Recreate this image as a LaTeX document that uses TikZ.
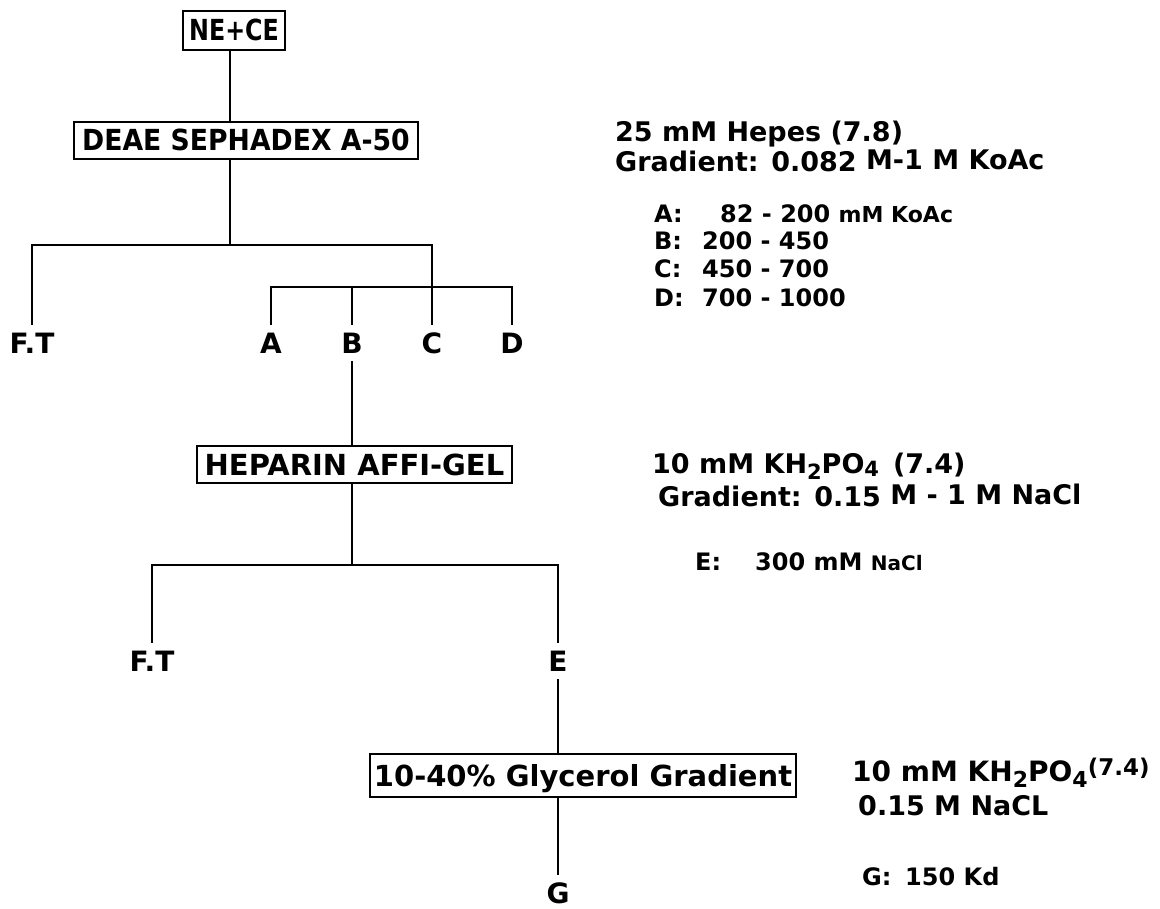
\documentclass[tikz,border=0pt]{standalone}
\usepackage{fontspec}
\setmainfont{DejaVu Sans}
\usepackage{graphicx}
\newcommand\fsz[1]{\fontsize{#1}{#1}\selectfont}
\begin{document}
\begin{tikzpicture}[x=1pt,y=-1pt,
  box/.style={draw,line width=1.9pt,inner sep=0pt,font=\bfseries\fsz{29},text height=21pt,text depth=0pt},
  lbl/.style={inner sep=0pt,font=\bfseries\fsz{28},text height=20.4pt,text depth=0pt},
  conn/.style={line width=1.9pt},
  gap/.style={shorten <=8pt},
  gapend/.style={shorten >=8pt},
  txt/.style={anchor=base west,inner sep=0pt,font=\bfseries\fsz{27}},
  sml/.style={anchor=base west,inner sep=0pt,font=\bfseries\fsz{24}}]
\useasboundingbox (0,0) rectangle (1160,909);
\fill[white] (0,0) rectangle (1160,909);

% boxes
\node[box,minimum width=102pt,minimum height=39pt] (nece) at (234,30.5) {\scalebox{0.82}[1]{NE+CE}};
\node[box,minimum width=344pt,minimum height=37pt] (deae) at (246,140.5) {\scalebox{0.92}[1]{DEAE SEPHADEX A-50}};
\node[box,minimum width=315pt,minimum height=37pt] (hep) at (354.5,464.5) {HEPARIN AFFI-GEL};
\node[box,minimum width=426pt,minimum height=43pt] (gly) at (583,775.5) {10-40\% Glycerol Gradient};

% labels
\node[lbl] (FT1) at (32,343) {F.T};
\node[lbl] (A) at (271,343) {A};
\node[lbl] (B) at (352,343) {B};
\node[lbl] (C) at (432,343) {C};
\node[lbl] (D) at (512,343) {D};
\node[lbl] (FT2) at (152,661) {F.T};
\node[lbl] (E) at (558,661) {E};
\node[lbl] (G) at (558,893) {G};

% junctions
\coordinate (j1) at (230,245);
\coordinate (j2) at (352,287);
\coordinate (j3) at (352,565);

% connectors
\draw[conn] (nece.south -| j1) -- (deae.north -| j1);
\draw[conn] (deae.south -| j1) -- (j1);
\draw[conn,gap,gapend] (FT1.north) |- (j1) -| (C.north);
\draw[conn,gap,gapend] (A.north) |- (j2) -| (D.north);
\draw[conn,gap] (B.north) -- (j2);
\draw[conn,gap] (B.south) -- (B.south |- hep.north);
\draw[conn] (hep.south -| j3) -- (j3);
\draw[conn,gap,gapend] (FT2.north) |- (j3) -| (E.north);
\draw[conn,gap] (E.south) -- (E.south |- gly.north);
\draw[conn,gapend] (gly.south -| G) -- (G.north);

% right column, block 1
\node[txt] (h1) at (615,142) {25 mM Hepes (7.8)};
\node[txt] (h2) at (615,172) {Gradient: 0.082 \raisebox{2pt}{M-1 M KoAc}};
\node[sml] (ra) at (654,223) {A:};
\node[sml] (va) at (720,223) {82 - 200 {\fsz{22}mM KoAc}};
\node[sml] (rb) at (654,250) {B:};
\node[sml] (vb) at (702,250) {200 - 450};
\node[sml] (rc) at (654,278) {C:};
\node[sml] (vc) at (702,278) {450 - 700};
\node[sml] (rd) at (654,307) {D:};
\node[sml] (vd) at (702,307) {700 - 1000};

% right column, block 2
\node[txt] (k1) at (652,473) {10 mM KH\raisebox{-6pt}{\fsz{21}2}PO\raisebox{-3pt}{\fsz{21}4}\hspace{14pt}(7.4)};
\node[txt] (k2) at (658,506) {Gradient: 0.15 \raisebox{2pt}{M -\ 1 M NaCl}};
\node[sml] (re) at (695,570) {E:};
\node[sml] (ve) at (755,570) {300 mM {\fsz{20}NaCl}};

% right column, block 3
\node[txt,font=\bfseries\fsz{28}] (g1) at (852,781) {10 mM KH\raisebox{-6pt}{\fsz{22}2}PO\raisebox{-6pt}{\fsz{22}4}\raisebox{6pt}{\fsz{23}(7.4)}};
\node[txt] (g2) at (858,815) {0.15 M NaCL};
\node[sml] (rg) at (862,885) {G:};
\node[sml] (vg) at (905,885) {150 Kd};
\end{tikzpicture}
\end{document}
